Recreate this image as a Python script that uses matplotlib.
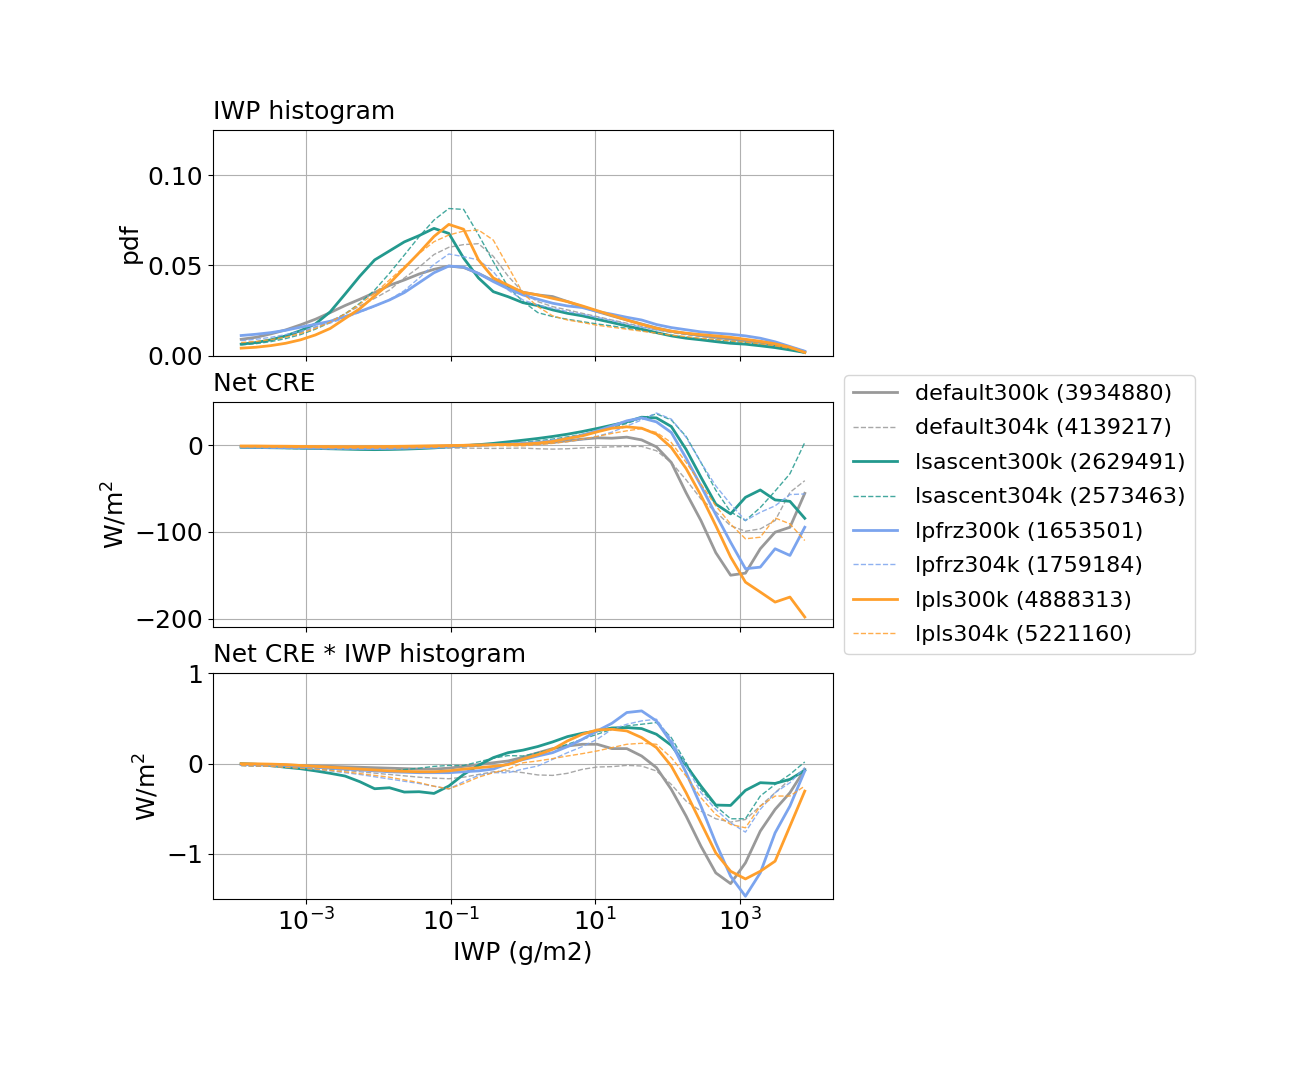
import numpy as np
import matplotlib
matplotlib.use("Agg")
import matplotlib.pyplot as plt
from matplotlib.ticker import NullLocator

plt.rcParams["font.size"] = 18
plt.rcParams["axes.titlesize"] = 18
plt.rcParams["axes.titlepad"] = 8

# IWP bins (g/m2), 39 log-spaced bins between 1e-4 and 1e4
iwp_edges = np.logspace(-4, 4, 40)
iwp_centers = np.sqrt(iwp_edges[:-1] * iwp_edges[1:])

runs = ["default300k", "default304k", "lsascent300k", "lsascent304k",
        "lpfrz300k", "lpfrz304k", "lpls300k", "lpls304k"]
counts = [3934880, 4139217, 2629491, 2573463, 1653501, 1759184, 4888313, 5221160]

# IWP histogram (pdf)
pdf_default300k = [0.0090, 0.0101, 0.0120, 0.0142, 0.0170, 0.0201, 0.0238, 0.0277, 0.0312, 0.0349,
                   0.0389, 0.0419, 0.0452, 0.0478, 0.0496, 0.0488, 0.0455, 0.0415, 0.0380, 0.0351,
                   0.0336, 0.0327, 0.0299, 0.0271, 0.0244, 0.0220, 0.0197, 0.0175, 0.0153, 0.0135,
                   0.0122, 0.0111, 0.0101, 0.0092, 0.0083, 0.0074, 0.0059, 0.0041, 0.0017]
pdf_default304k = [0.0068, 0.0076, 0.0087, 0.0105, 0.0127, 0.0157, 0.0190, 0.0231, 0.0275, 0.0317,
                   0.0363, 0.0430, 0.0490, 0.0560, 0.0600, 0.0615, 0.0620, 0.0550, 0.0440, 0.0350,
                   0.0299, 0.0271, 0.0253, 0.0234, 0.0216, 0.0197, 0.0179, 0.0161, 0.0142, 0.0127,
                   0.0116, 0.0105, 0.0096, 0.0087, 0.0077, 0.0068, 0.0057, 0.0041, 0.0022]
pdf_lsascent300k = [0.0063, 0.0072, 0.0087, 0.0109, 0.0138, 0.0175, 0.0242, 0.0340, 0.0440, 0.0530,
                    0.0580, 0.0630, 0.0665, 0.0705, 0.0677, 0.0540, 0.0430, 0.0354, 0.0326, 0.0293,
                    0.0277, 0.0253, 0.0234, 0.0220, 0.0201, 0.0183, 0.0164, 0.0146, 0.0127, 0.0109,
                    0.0096, 0.0087, 0.0077, 0.0068, 0.0063, 0.0054, 0.0044, 0.0031, 0.0017]
pdf_lsascent304k = [0.0059, 0.0066, 0.0077, 0.0094, 0.0116, 0.0146, 0.0183, 0.0231, 0.0290, 0.0363,
                    0.0456, 0.0557, 0.0659, 0.0751, 0.0815, 0.0810, 0.0670, 0.0520, 0.0380, 0.0300,
                    0.0238, 0.0216, 0.0201, 0.0188, 0.0175, 0.0164, 0.0151, 0.0138, 0.0124, 0.0113,
                    0.0101, 0.0092, 0.0087, 0.0079, 0.0072, 0.0063, 0.0054, 0.0041, 0.0022]
pdf_lpfrz300k = [0.0111, 0.0118, 0.0127, 0.0140, 0.0157, 0.0173, 0.0190, 0.0216, 0.0244, 0.0275,
                 0.0308, 0.0349, 0.0404, 0.0459, 0.0496, 0.0490, 0.0455, 0.0410, 0.0370, 0.0336,
                 0.0312, 0.0290, 0.0275, 0.0266, 0.0244, 0.0229, 0.0212, 0.0197, 0.0172, 0.0155,
                 0.0143, 0.0131, 0.0124, 0.0118, 0.0109, 0.0096, 0.0076, 0.0050, 0.0024]
pdf_lpfrz304k = [0.0083, 0.0090, 0.0101, 0.0116, 0.0135, 0.0160, 0.0180, 0.0208, 0.0240, 0.0272,
                 0.0310, 0.0360, 0.0430, 0.0505, 0.0563, 0.0548, 0.0530, 0.0465, 0.0363, 0.0308,
                 0.0280, 0.0262, 0.0244, 0.0229, 0.0212, 0.0194, 0.0175, 0.0157, 0.0142, 0.0131,
                 0.0122, 0.0114, 0.0107, 0.0100, 0.0090, 0.0081, 0.0068, 0.0050, 0.0026]
pdf_lpls300k = [0.0041, 0.0046, 0.0055, 0.0068, 0.0087, 0.0114, 0.0150, 0.0205, 0.0260, 0.0330,
                0.0400, 0.0485, 0.0570, 0.0660, 0.0727, 0.0700, 0.0530, 0.0430, 0.0390, 0.0350,
                0.0336, 0.0317, 0.0299, 0.0275, 0.0249, 0.0223, 0.0197, 0.0173, 0.0151, 0.0135,
                0.0124, 0.0116, 0.0109, 0.0101, 0.0090, 0.0079, 0.0065, 0.0046, 0.0017]
pdf_lpls304k = [0.0072, 0.0078, 0.0088, 0.0102, 0.0122, 0.0150, 0.0185, 0.0230, 0.0285, 0.0345,
                0.0419, 0.0493, 0.0566, 0.0631, 0.0668, 0.0690, 0.0696, 0.0640, 0.0493, 0.0345,
                0.0271, 0.0220, 0.0197, 0.0183, 0.0168, 0.0157, 0.0146, 0.0135, 0.0124, 0.0113,
                0.0105, 0.0096, 0.0089, 0.0081, 0.0074, 0.0065, 0.0054, 0.0039, 0.0020]

# Net CRE (W/m2)
cre_default300k = [-1.5, -1.6, -1.8, -2.0, -2.1, -2.2, -2.3, -2.3, -2.2, -2.1,
                   -2.0, -1.8, -1.5, -1.2, -0.8, -0.3, 0.2, 0.5, 0.8, 1.1,
                   1.9, 3.1, 5.0, 6.9, 8.4, 8.0, 9.2, 6.0, -2.0, -20.0,
                   -55.0, -87.0, -124.0, -150.0, -147.6, -119.5, -100.4, -94.7, -55.6]
cre_default304k = [-2.5, -2.7, -3.0, -3.2, -3.4, -3.6, -3.8, -4.0, -4.0, -4.0,
                   -3.9, -3.8, -3.6, -3.4, -3.3, -3.4, -3.6, -3.8, -3.6, -3.4,
                   -4.2, -4.6, -4.2, -3.2, -2.5, -2.0, -1.6, -1.5, -6.5, -20.0,
                   -40.0, -62.0, -77.0, -93.0, -99.3, -96.6, -87.0, -54.5, -41.0]
cre_lsascent300k = [-2.5, -2.7, -3.0, -3.2, -3.5, -3.8, -4.2, -4.6, -5.0, -5.2,
                    -5.0, -4.6, -4.0, -3.2, -2.0, -0.8, 0.5, 2.0, 3.8, 5.7,
                    7.7, 10.0, 12.6, 15.7, 19.2, 23.0, 26.8, 32.2, 31.4, 21.5,
                    -5.0, -37.0, -68.0, -79.3, -60.2, -51.7, -63.2, -64.8, -84.4]
cre_lsascent304k = [-3.0, -3.2, -3.5, -3.8, -4.0, -4.3, -4.6, -4.8, -4.8, -4.6,
                    -4.3, -4.0, -3.5, -3.0, -2.2, -1.2, 0.0, 1.2, 2.2, 3.0,
                    5.0, 7.0, 9.5, 12.5, 16.0, 20.0, 25.0, 31.0, 36.0, 29.0,
                    10.0, -20.0, -52.0, -77.0, -87.0, -72.0, -53.0, -33.0, 3.0]
cre_lpfrz300k = [-2.0, -2.2, -2.5, -2.8, -3.0, -3.2, -3.4, -3.6, -3.8, -3.9,
                 -3.8, -3.5, -3.0, -2.5, -1.8, -1.0, -0.2, 0.5, 1.2, 2.0,
                 3.0, 5.0, 7.7, 11.5, 16.5, 22.0, 28.0, 31.4, 26.8, 14.6,
                 -15.0, -47.0, -80.0, -112.0, -142.5, -140.7, -119.5, -127.2, -94.7]
cre_lpfrz304k = [-3.0, -3.2, -3.5, -3.7, -4.0, -4.2, -4.4, -4.5, -4.5, -4.4,
                 -4.2, -3.9, -3.5, -3.0, -2.3, -1.5, -0.5, 0.5, 1.2, 1.0,
                 1.5, 2.5, 4.0, 6.5, 10.0, 15.0, 22.0, 29.0, 37.0, 30.0,
                 9.0, -20.0, -47.0, -68.0, -87.0, -77.5, -70.0, -57.0, -56.3]
cre_lpls300k = [-1.0, -1.0, -1.2, -1.3, -1.5, -1.6, -1.7, -1.8, -1.8, -1.7,
                -1.5, -1.3, -1.0, -0.8, -0.5, -0.2, 0.2, 0.5, 0.8, 1.1,
                2.3, 4.2, 7.7, 10.7, 15.3, 19.5, 21.1, 19.5, 12.6, -2.7,
                -27.0, -58.0, -92.8, -129.0, -158.0, -169.4, -181.0, -175.2, -198.2]
cre_lpls304k = [-2.0, -2.2, -2.4, -2.6, -2.8, -3.0, -3.2, -3.4, -3.5, -3.5,
                -3.4, -3.2, -2.9, -2.5, -2.0, -1.5, -1.0, -0.5, -0.8, -0.8,
                0.5, 2.0, 4.0, 6.9, 10.0, 13.5, 16.5, 19.0, 14.6, 3.0,
                -20.0, -45.0, -70.0, -91.0, -108.0, -106.2, -84.0, -90.8, -110.0]

# Net CRE * IWP histogram (W/m2)
prod_default300k = [-0.005, -0.007, -0.01, -0.015, -0.02, -0.025, -0.03, -0.035, -0.04, -0.045,
                    -0.05, -0.055, -0.06, -0.06, -0.05, -0.03, -0.01, 0.01, 0.03, 0.07,
                    0.12, 0.167, 0.196, 0.215, 0.215, 0.167, 0.167, 0.085, -0.044, -0.285,
                    -0.581, -0.915, -1.211, -1.33, -1.1, -0.748, -0.507, -0.322, -0.063]
prod_default304k = [-0.02, -0.025, -0.03, -0.035, -0.04, -0.05, -0.06, -0.075, -0.09, -0.105,
                    -0.12, -0.135, -0.15, -0.16, -0.167, -0.15, -0.12, -0.09, -0.08, -0.10,
                    -0.125, -0.13, -0.107, -0.063, -0.037, -0.033, -0.019, -0.026, -0.081, -0.23,
                    -0.415, -0.526, -0.611, -0.648, -0.619, -0.47, -0.322, -0.174, -0.063]
prod_lsascent300k = [0.0, -0.007, -0.02, -0.04, -0.056, -0.08, -0.107, -0.137, -0.2, -0.278,
                     -0.267, -0.315, -0.311, -0.33, -0.248, -0.119, -0.019, 0.067, 0.122, 0.15,
                     0.19, 0.241, 0.3, 0.337, 0.363, 0.396, 0.4, 0.389, 0.326, 0.204,
                     -0.019, -0.248, -0.459, -0.463, -0.296, -0.211, -0.219, -0.174, -0.074]
prod_lsascent304k = [-0.02, -0.025, -0.03, -0.035, -0.04, -0.05, -0.06, -0.065, -0.07, -0.075,
                     -0.08, -0.065, -0.05, -0.03, -0.02, -0.02, 0.02, 0.06, 0.09, 0.085,
                     0.122, 0.159, 0.215, 0.27, 0.326, 0.381, 0.419, 0.437, 0.456, 0.289,
                     0.011, -0.285, -0.47, -0.611, -0.611, -0.359, -0.23, -0.119, 0.019]
prod_lpfrz300k = [-0.01, -0.012, -0.015, -0.02, -0.03, -0.04, -0.05, -0.06, -0.07, -0.08,
                  -0.09, -0.095, -0.1, -0.1, -0.1, -0.09, -0.08, -0.06, 0.0, 0.045,
                  0.085, 0.122, 0.189, 0.27, 0.363, 0.448, 0.567, 0.585, 0.474, 0.233,
                  -0.1, -0.47, -0.878, -1.248, -1.47, -1.211, -0.767, -0.47, -0.081]
prod_lpfrz304k = [-0.02, -0.025, -0.03, -0.04, -0.05, -0.065, -0.08, -0.1, -0.12, -0.145,
                  -0.17, -0.195, -0.22, -0.25, -0.28, -0.2, -0.13, -0.1, -0.1, -0.06,
                  -0.026, 0.048, 0.122, 0.189, 0.27, 0.381, 0.437, 0.474, 0.493, 0.27,
                  -0.026, -0.322, -0.507, -0.656, -0.759, -0.507, -0.322, -0.211, -0.044]
prod_lpls300k = [0.0, -0.002, -0.005, -0.01, -0.02, -0.03, -0.04, -0.05, -0.06, -0.07,
                 -0.08, -0.085, -0.09, -0.09, -0.08, -0.06, -0.045, -0.03, -0.01, 0.05,
                 0.1, 0.159, 0.252, 0.326, 0.374, 0.381, 0.363, 0.289, 0.178, -0.026,
                 -0.322, -0.656, -0.989, -1.193, -1.278, -1.193, -1.081, -0.693, -0.304]
prod_lpls304k = [-0.02, -0.025, -0.03, -0.04, -0.05, -0.06, -0.075, -0.09, -0.11, -0.13,
                 -0.15, -0.18, -0.21, -0.25, -0.28, -0.22, -0.15, -0.1, -0.06, 0.01,
                 0.03, 0.056, 0.085, 0.111, 0.141, 0.178, 0.215, 0.226, 0.215, 0.067,
                 -0.137, -0.378, -0.563, -0.674, -0.711, -0.47, -0.359, -0.359, -0.248]

pdfs = [pdf_default300k, pdf_default304k, pdf_lsascent300k, pdf_lsascent304k,
        pdf_lpfrz300k, pdf_lpfrz304k, pdf_lpls300k, pdf_lpls304k]
cres = [cre_default300k, cre_default304k, cre_lsascent300k, cre_lsascent304k,
        cre_lpfrz300k, cre_lpfrz304k, cre_lpls300k, cre_lpls304k]
prods = [prod_default300k, prod_default304k, prod_lsascent300k, prod_lsascent304k,
         prod_lpfrz300k, prod_lpfrz304k, prod_lpls300k, prod_lpls304k]

colors = {"default": "#999999", "lsascent": "#23998e", "lpfrz": "#7ba4ee", "lpls": "#ff9f2c"}

fig, axes = plt.subplots(3, 1, figsize=(12.94, 10.66), dpi=100, sharex=True)
fig.subplots_adjust(left=0.1646, right=0.6437, top=0.878, bottom=0.1567, hspace=0.205)

for run, n, pdf, cre, prod in zip(runs, counts, pdfs, cres, prods):
    col = colors[run[:-4]]
    if run.endswith("300k"):
        style = dict(color=col, lw=2, ls="-")
    else:
        style = dict(color=col, lw=1, ls="--", alpha=0.85)
    axes[0].plot(iwp_centers, pdf, **style)
    axes[1].plot(iwp_centers, cre, label=f"{run} ({n})", **style)
    axes[2].plot(iwp_centers, prod, **style)

axes[0].set_title("IWP histogram", loc="left")
axes[1].set_title("Net CRE", loc="left")
axes[2].set_title("Net CRE * IWP histogram", loc="left")

axes[0].set_ylabel("pdf")
axes[1].set_ylabel("W/m$^2$")
axes[2].set_ylabel("W/m$^2$")
axes[2].set_xlabel("IWP (g/m2)")

axes[0].set_ylim(0, 0.125)
axes[0].set_yticks([0.0, 0.05, 0.10])
axes[1].set_ylim(-210, 50)
axes[1].set_yticks([-200, -100, 0])
axes[2].set_ylim(-1.5, 1)
axes[2].set_yticks([-1, 0, 1])

for ax in axes:
    ax.set_xscale("log")
    ax.set_xticks([1e-3, 1e-1, 1e1, 1e3])
    ax.xaxis.set_minor_locator(NullLocator())
    ax.grid(True)

axes[1].legend(loc="center left", bbox_to_anchor=(1, 0.5), fontsize=16, labelspacing=0.65)

plt.savefig("out.png", dpi=100)
plt.close()
